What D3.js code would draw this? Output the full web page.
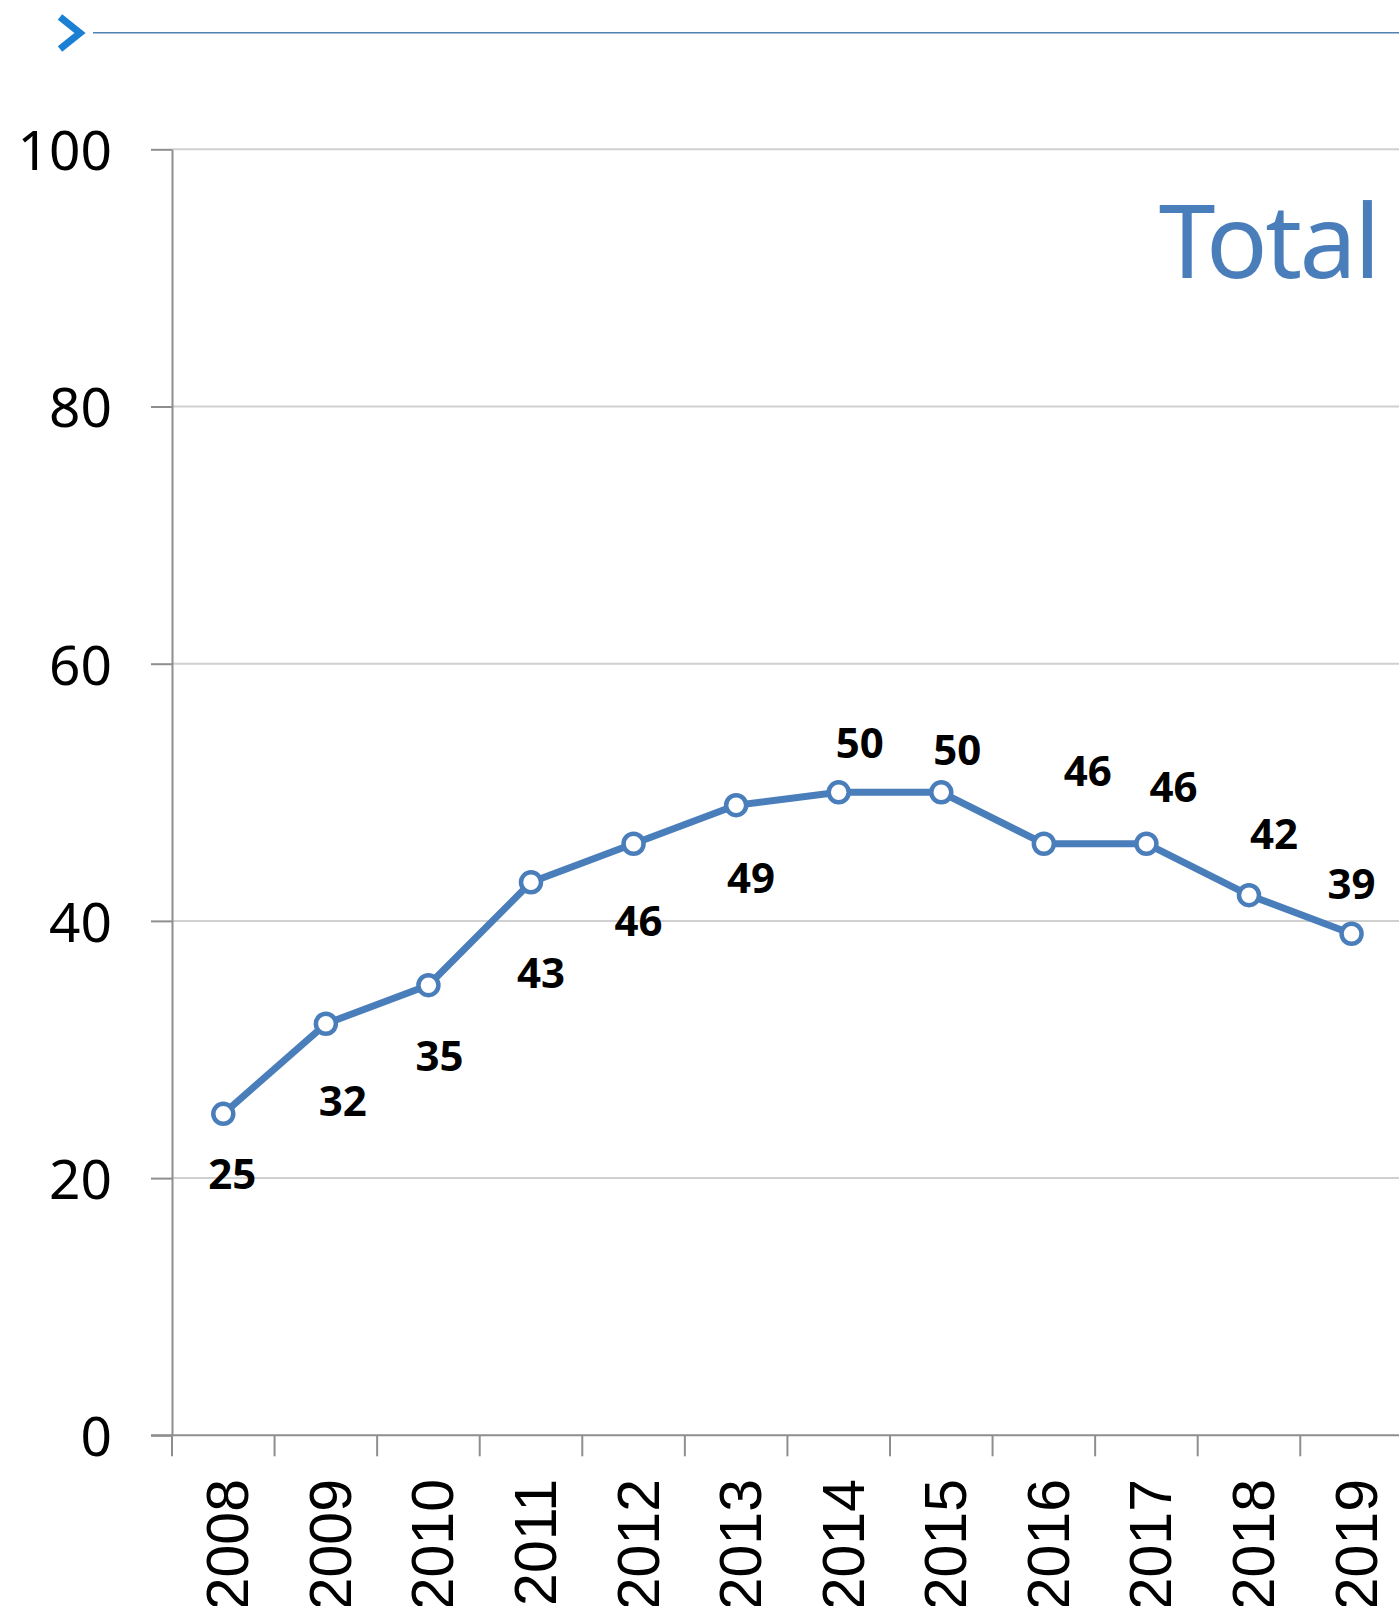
<!DOCTYPE html>
<html>
<head>
<meta charset="utf-8">
<script src="https://cdn.jsdelivr.net/npm/d3@7"></script>
<style>
  html, body { margin: 0; padding: 0; background: #fff; overflow: hidden; }
  svg { display: block; }
</style>
</head>
<body>
<svg id="chart" width="1399" height="1606"></svg>
<script>
// ---- data ----
const years = ["2008","2009","2010","2011","2012","2013","2014","2015","2016","2017","2018","2019"];
const totalValues = [25, 32, 35, 43, 46, 49, 50, 50, 46, 46, 42, 39];
const yTicks = [0, 20, 40, 60, 80, 100];
const seriesName = "Total";

// ---- label placement (layout, pixels relative to the point) ----
const labelDx = [9, 17, 11, 10, 5, 15, 21, 16, 44, 27, 25, 0];
const labelDy = [75, 92, 86, 106, 92, 88, -34, -27, -58, -42, -46, -35];

(function () {
const W = 1399, H = 1606;
const plotLeft = 172, plotTop = 149.3, plotBottom = 1435.3;
const band = 102.57;
const svg = d3.select("#chart");

const x = d3.scaleBand().domain(years).range([plotLeft, plotLeft + band * years.length]).padding(0);
const y = d3.scaleLinear().domain([0, 100]).range([plotBottom, plotTop]);

const blue = "#4A7EBB";

// header decoration
svg.append("polyline")
  .attr("points", "60,17 80,33 60,49")
  .attr("fill", "none").attr("stroke", "#1B80D3").attr("stroke-width", 7)
  .attr("stroke-linejoin", "miter");
svg.append("line").attr("x1", 93).attr("x2", W).attr("y1", 32.7).attr("y2", 32.7)
  .attr("stroke", "#4F82B2").attr("stroke-width", 1.5);

// gridlines
svg.append("g").selectAll("line").data(yTicks.filter(d => d > 0)).join("line")
  .attr("x1", plotLeft).attr("x2", W)
  .attr("y1", d => y(d)).attr("y2", d => y(d))
  .attr("stroke", "#D0D0D0").attr("stroke-width", 2);

// y axis
const yAxis = d3.axisLeft(y).tickValues(yTicks).tickSize(21).tickPadding(39).tickSizeOuter(0);
const gy = svg.append("g").attr("transform", `translate(${plotLeft},0)`).call(yAxis);
gy.select(".domain").attr("stroke", "#8E8E8E").attr("stroke-width", 2);
gy.selectAll(".tick line").attr("stroke", "#8E8E8E").attr("stroke-width", 2);
gy.selectAll(".tick text")
  .attr("font-family", "'Noto Sans', 'Open Sans', sans-serif")
  .attr("font-size", 55).attr("fill", "#000").attr("dy", "0.37em");

// x axis
const xTickPositions = d3.range(years.length).map(i => plotLeft + i * band);
const gx = svg.append("g");
gx.append("line").attr("x1", 151).attr("x2", W).attr("y1", plotBottom).attr("y2", plotBottom)
  .attr("stroke", "#8E8E8E").attr("stroke-width", 2);
gx.selectAll("line.tk").data(xTickPositions).join("line").attr("class", "tk")
  .attr("x1", d => d).attr("x2", d => d).attr("y1", plotBottom).attr("y2", plotBottom + 21)
  .attr("stroke", "#8E8E8E").attr("stroke-width", 2);
gx.selectAll("text").data(years).join("text")
  .attr("transform", d => `translate(${x(d) + x.bandwidth() / 2 + 25},${1479}) rotate(-90)`)
  .attr("text-anchor", "end")
  .attr("font-family", "'Liberation Sans', Arial, sans-serif")
  .attr("font-size", 59).attr("fill", "#000")
  .text(d => d);

// series title
svg.append("text")
  .attr("x", 1378).attr("y", 277.7)
  .attr("text-anchor", "end")
  .attr("font-family", "'Noto Sans', 'Open Sans', sans-serif")
  .attr("font-size", 102).attr("letter-spacing", -2.5).attr("fill", blue)
  .text(seriesName);

// line
const cx = (d, i) => x(years[i]) + x.bandwidth() / 2;
const line = d3.line().x((d, i) => cx(d, i)).y(d => y(d));
svg.append("path").datum(totalValues)
  .attr("d", line).attr("fill", "none")
  .attr("stroke", blue).attr("stroke-width", 7).attr("stroke-linejoin", "round");

// markers
svg.append("g").selectAll("circle").data(totalValues).join("circle")
  .attr("cx", (d, i) => cx(d, i)).attr("cy", d => y(d)).attr("r", 10)
  .attr("fill", "#fff").attr("stroke", blue).attr("stroke-width", 4.5);

// data labels
svg.append("g").selectAll("text").data(totalValues).join("text")
  .attr("x", (d, i) => cx(d, i) + labelDx[i])
  .attr("y", (d, i) => y(d) + labelDy[i])
  .attr("text-anchor", "middle")
  .attr("font-family", "'Noto Sans', 'Open Sans', sans-serif")
  .attr("font-weight", "bold").attr("font-size", 42).attr("fill", "#000")
  .text(d => d);
})();
</script>
</body>
</html>
